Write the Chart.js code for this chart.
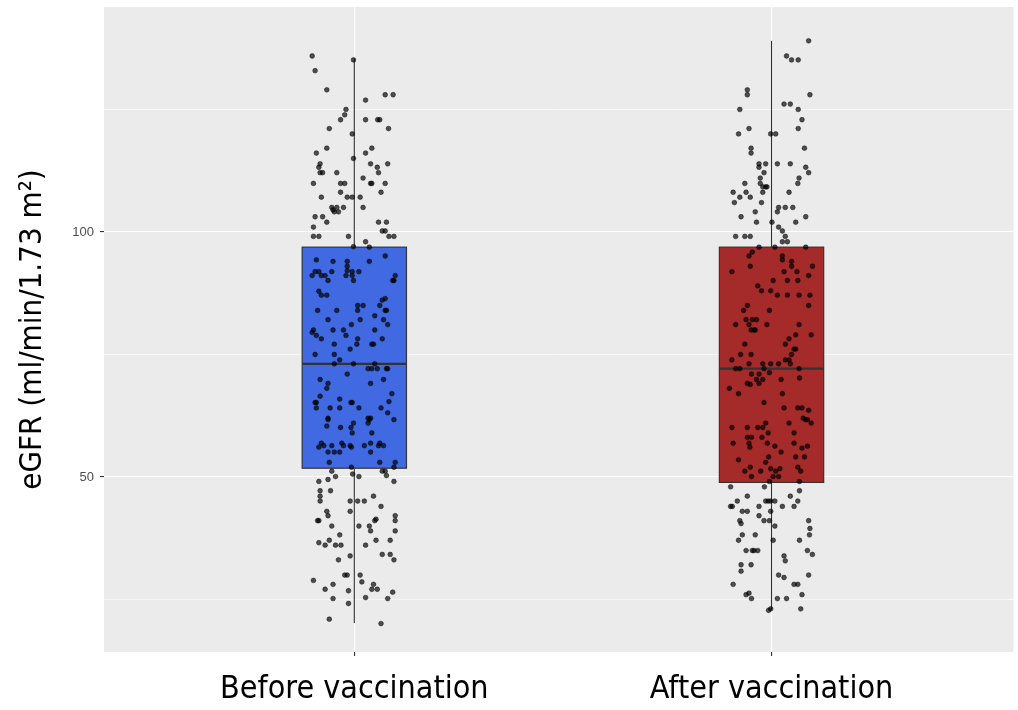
<!DOCTYPE html>
<html>
<head>
<meta charset="utf-8">
<script src="https://cdn.jsdelivr.net/npm/chart.js@4.4.1/dist/chart.umd.min.js"></script>
<style>
  html, body { margin: 0; padding: 0; background: #fff; }
  #wrap { width: 1018px; height: 710px; }
</style>
</head>
<body>
<div id="wrap"><canvas id="chart" width="1018" height="710"></canvas></div>
<script>
// groups and box statistics
const groups = ['Before vaccination', 'After vaccination'];
const groupColors = ['#4169E1', '#A52A2A'];
const whiskerLow = [20.2, 22.9];
const boxQ1 = [51.8, 48.9];
const boxMedian = [73.1, 72.1];
const boxQ3 = [96.9, 96.9];
const whiskerHigh = [135.4, 139.0];
const yTicks = [25, 50, 75, 100, 125];

// jittered observations: eGFR value and horizontal jitter (in category units)
const beforeValues = [
  135.9, 135.1, 132.9, 129.0, 128.0, 128.0, 126.9, 125.0, 123.9, 122.9,
  122.9, 122.9, 122.9, 121.1, 121.1, 120.0, 117.1, 117.1, 116.1, 116.1,
  115.0, 113.9, 113.9, 113.9, 113.2, 113.2, 112.1, 112.1, 112.1, 112.1,
  111.0, 109.9, 109.9, 109.9, 109.9, 109.9, 109.9, 108.1, 108.1, 107.1,
  107.1, 107.1, 107.1, 105.0, 105.0, 105.0, 105.0, 104.5, 104.1, 104.1,
  103.1, 103.1, 102.0, 102.0, 102.0, 101.0,
  99.1, 99.1, 99.1, 100.2, 100.2, 99.1, 99.1, 98.0, 96.9, 97.0,
  94.3, 94.0, 94.0, 94.0, 95.1, 93.0, 91.9, 91.9, 91.9, 92.1,
  91.9, 91.9, 91.1, 91.1, 91.1, 91.1, 91.1, 91.1, 90.1, 90.1,
  90.1, 90.1, 87.9, 87.1, 87.1, 86.4, 86.1, 85.0, 85.0, 85.0,
  84.0, 84.0, 84.0, 84.0, 84.0, 82.1, 82.1, 82.1, 82.9, 81.1,
  81.1, 80.0, 79.5, 80.0, 80.0, 80.0, 78.9, 78.9, 78.2, 78.2,
  78.2, 77.1, 77.1, 77.1, 77.1, 76.1, 75.0, 75.0, 73.9, 73.1,
  73.1, 73.1, 72.1, 72.1, 72.1, 72.1, 72.1, 71.0, 69.9, 69.9,
  69.1, 69.1, 68.1, 67.0, 66.5, 65.2, 65.2, 64.1, 65.2, 65.2,
  65.4, 64.1, 64.1, 65.9, 64.1, 64.1, 63.1, 62.0, 61.7, 62.0,
  62.0, 61.7, 61.7, 61.0, 61.0, 60.4, 60.1, 60.1,
  59.0, 59.0, 56.9, 56.4, 56.4, 56.9, 56.4, 56.4, 56.1, 56.4,
  56.9, 56.9, 56.4, 56.4, 56.1, 55.1, 55.1, 55.1, 55.1, 53.0,
  53.0, 53.0, 52.0, 52.0, 51.2, 50.6, 50.1, 51.2, 51.2, 50.3,
  50.1, 49.5, 49.1, 49.1, 47.2, 47.2, 46.1, 45.1, 46.1, 45.1,
  45.1, 45.1, 44.0, 43.0, 43.0, 42.1, 42.1, 41.1, 41.1, 41.1,
  41.4, 41.1, 40.0, 40.0, 40.0, 39.0, 39.0, 38.2, 37.1, 37.1,
  37.1, 36.6, 36.1, 36.1, 36.1, 36.1, 33.9, 34.2, 34.2, 33.1,
  33.1, 30.0, 30.0, 30.0, 28.9, 28.1, 28.6, 28.1, 27.1, 26.8,
  27.1, 27.1, 26.5, 25.2, 25.4, 25.2, 24.2, 21.0, 20.1
];
const beforeJitter = [
  -0.101, -0.002, -0.094, -0.066, 0.074, 0.093, 0.027, -0.020, -0.023, -0.033,
  0.027, 0.056, 0.061, -0.060, 0.082, -0.005, -0.066, 0.042, -0.091, 0.027,
  -0.002, -0.082, 0.039, 0.080, -0.085, 0.055, -0.082, -0.076, -0.042, 0.058,
  0.021, -0.098, -0.033, -0.023, 0.039, 0.042, 0.074, -0.033, 0.064, -0.079,
  -0.017, -0.005, 0.014, -0.054, -0.042, -0.026, 0.021, -0.051, -0.048, -0.038,
  -0.094, -0.076, -0.066, 0.058, 0.077, -0.098,
  -0.098, -0.085, -0.014, 0.067, 0.074, 0.083, 0.095, 0.027, 0.036, -0.002,
  -0.091, -0.051, -0.017, 0.036, 0.074, -0.017, -0.094, -0.085, -0.054, -0.017,
  -0.005, 0.011, -0.101, -0.079, -0.070, -0.020, -0.005, 0.098, -0.063, -0.002,
  0.092, 0.095, -0.085, -0.079, -0.066, 0.074, 0.067, 0.061, 0.008, 0.021,
  -0.088, -0.042, 0.008, 0.074, 0.077, -0.063, 0.014, 0.070, 0.049, -0.007,
  0.080, -0.098, -0.101, -0.051, -0.026, 0.049, -0.091, -0.020, -0.079, 0.008,
  0.067, -0.048, 0.006, 0.042, 0.046, -0.010, -0.094, -0.048, -0.035, -0.048,
  -0.002, 0.049, 0.033, 0.042, 0.055, 0.077, 0.080, -0.017, -0.082, 0.070,
  -0.063, 0.039, -0.066, 0.090, -0.082, -0.094, -0.091, -0.091, -0.008, -0.005,
  0.083, -0.058, -0.035, -0.035, 0.011, 0.064, 0.080, -0.063, -0.063, 0.033,
  0.039, 0.036, 0.095, -0.002, 0.033, -0.066, -0.033, -0.008,
  -0.005, 0.042, -0.079, -0.073, -0.054, -0.030, -0.026, -0.010, -0.007, 0.024,
  0.039, 0.061, 0.058, 0.070, -0.085, -0.063, -0.048, -0.035, 0.039, -0.060,
  0.061, 0.098, -0.007, 0.095, -0.054, -0.004, 0.011, 0.067, 0.074, 0.077,
  -0.045, -0.063, -0.085, 0.095, -0.082, -0.057, -0.082, -0.082, 0.046, -0.010,
  0.008, 0.024, 0.064, -0.066, -0.010, -0.063, 0.098, -0.088, -0.085, 0.049,
  0.052, 0.098, -0.054, 0.011, 0.036, 0.039, 0.098, -0.035, -0.060, 0.052,
  0.086, -0.085, -0.070, -0.045, -0.032, 0.027, -0.010, 0.067, 0.086, -0.038,
  0.095, -0.023, -0.017, 0.014, -0.098, -0.051, 0.018, 0.046, -0.070, -0.014,
  0.042, 0.055, 0.092, -0.051, 0.027, 0.080, -0.014, -0.060, 0.064
];

const afterValues = [
  139.0, 135.9, 135.1, 135.1, 129.0, 128.0, 128.0, 126.1, 126.1, 125.0,
  125.0, 122.9, 121.1, 121.1, 120.0, 120.0, 120.0, 117.1, 116.1, 117.1,
  113.9, 113.9, 113.9, 113.9, 113.2, 113.2, 112.1, 112.1, 111.0, 111.0,
  109.9, 109.9, 109.9, 109.2, 109.2, 109.2, 108.1, 108.1, 108.1, 108.1,
  107.1, 107.1, 106.0, 106.0, 105.0, 105.0, 105.0, 104.1, 104.1, 103.1,
  103.1, 102.0, 102.0, 102.0, 101.0,
  99.1, 99.1, 99.1, 100.2, 99.1, 98.0, 98.0, 96.9, 96.9, 96.9,
  95.9, 95.1, 95.1, 94.3, 94.0, 93.0, 93.0, 93.0, 91.9, 91.9,
  91.9, 91.1, 90.1, 90.1, 90.1, 89.0, 88.0, 88.0, 87.1, 87.1,
  87.1, 87.1, 85.0, 85.0, 84.0, 84.0, 82.1, 82.1, 82.1, 81.1,
  81.1, 81.1, 81.1, 80.0, 80.0, 80.0, 79.0, 79.0, 78.2, 77.1,
  77.1, 76.1, 76.1, 75.0, 75.0, 75.0, 73.9, 73.9, 73.9, 73.1,
  73.1, 73.1, 73.1, 73.1, 72.1, 72.1, 72.1, 72.1, 71.0, 71.0,
  71.3, 70.2, 69.9, 69.9, 69.9, 69.1, 68.9, 69.1, 68.1, 67.0,
  67.0, 65.2, 64.1, 64.1, 64.1, 63.6, 62.0, 61.7, 61.7, 61.0,
  61.0, 61.0, 60.1, 60.1, 60.1, 60.1,
  59.0, 59.0, 58.1, 58.1, 58.1, 56.9, 56.9, 56.1, 56.9, 56.9,
  55.9, 56.3, 56.3, 55.1, 53.5, 54.1, 54.1, 54.1, 53.0, 51.2,
  52.0, 51.2, 51.7, 51.7, 51.2, 52.0, 51.2, 50.1, 50.1, 50.1,
  49.1, 49.1, 48.0, 48.0, 47.2, 46.1, 46.1, 45.1, 45.1, 45.1,
  45.1, 45.1, 45.1, 44.0, 44.0, 44.0, 44.0, 44.0, 43.0, 43.0,
  43.0, 42.1, 41.1, 40.5, 41.1, 41.1, 41.1, 40.0, 39.5, 38.2,
  38.2, 38.2, 37.1, 37.1, 37.1, 35.0, 35.0, 35.0, 35.0, 35.0,
  34.2, 33.9, 32.9, 32.1, 32.1, 30.8, 30.0, 29.5, 30.0, 28.1,
  28.1, 28.1, 26.0, 26.3, 25.2, 25.2, 25.2, 26.0, 22.8, 23.1,
  23.1
];
const afterJitter = [
  0.089, 0.036, 0.048, 0.064, -0.058, -0.058, 0.092, 0.030, 0.045, -0.076,
  0.064, 0.073, -0.054, 0.064, -0.079, -0.002, 0.010, -0.049, -0.049, 0.079,
  -0.030, -0.014, 0.014, 0.045, -0.030, 0.082, -0.018, 0.089, -0.027, 0.066,
  -0.064, -0.027, 0.063, -0.021, -0.014, -0.011, -0.092, -0.061, -0.021, 0.042,
  -0.076, -0.051, -0.089, -0.024, 0.017, 0.033, 0.051, -0.039, 0.014, -0.073,
  0.082, -0.036, 0.001, 0.058, 0.017,
  -0.086, -0.064, -0.051, 0.026, 0.033, 0.026, 0.038, -0.030, 0.008, 0.082,
  -0.046, -0.054, 0.026, 0.026, 0.048, 0.048, 0.098, -0.051, -0.095, 0.030,
  0.061, 0.089, 0.004, 0.038, 0.063, -0.033, -0.024, -0.002, 0.014, 0.038,
  0.066, 0.092, -0.058, 0.089, -0.067, -0.005, -0.061, -0.046, -0.036, -0.086,
  -0.054, -0.011, 0.066, -0.049, -0.042, -0.039, 0.058, 0.095, 0.042, -0.064,
  0.033, 0.054, 0.058, -0.074, -0.049, 0.048, -0.095, 0.033, 0.042, 0.045,
  -0.054, -0.021, -0.002, 0.017, -0.086, -0.076, -0.018, 0.066, -0.048, -0.030,
  -0.005, 0.067, -0.036, -0.021, 0.023, -0.058, -0.051, -0.030, -0.101, -0.079,
  0.026, -0.018, 0.030, 0.063, 0.073, 0.089, 0.076, 0.082, 0.086, 0.095,
  0.042, -0.014, -0.095, -0.058, -0.033, -0.021,
  -0.008, 0.054, -0.058, -0.048, -0.023, -0.092, -0.054, -0.052, -0.010, 0.054,
  0.073, 0.086, 0.008, 0.023, -0.079, -0.007, 0.058, 0.079, -0.014, -0.064,
  -0.051, -0.026, -0.002, 0.020, 0.010, 0.063, 0.070, -0.048, 0.004, 0.017,
  -0.005, 0.067, -0.098, -0.017, 0.067, -0.058, 0.045, -0.082, -0.014, -0.008,
  -0.002, 0.008, 0.063, -0.098, -0.094, -0.030, 0.026, 0.054, -0.070, -0.058,
  -0.002, -0.030, -0.076, -0.073, -0.018, -0.005, 0.089, 0.008, 0.092, 0.091,
  -0.070, -0.039, -0.079, 0.004, 0.067, -0.061, -0.046, -0.042, -0.033, 0.086,
  0.098, 0.030, 0.033, -0.073, -0.049, -0.073, 0.017, 0.030, 0.089, -0.092,
  0.054, 0.063, -0.061, -0.054, -0.048, 0.014, 0.036, 0.073, -0.007, -0.002,
  0.070
];

const boxWidth = 0.25;
const textFont = "'DejaVu Sans Condensed', 'Liberation Sans Narrow', sans-serif";

function toPoints(values, jitter, pos) {
  return values.map((v, i) => ({ x: pos + jitter[i], y: v }));
}

const panelBackground = {
  id: 'panelBackground',
  beforeDraw(chart) {
    const { ctx, chartArea: a } = chart;
    ctx.save();
    ctx.fillStyle = '#EBEBEB';
    ctx.fillRect(a.left, a.top, a.right - a.left, a.bottom - a.top);
    ctx.restore();
  }
};

const boxPlot = {
  id: 'boxPlot',
  beforeDatasetsDraw(chart) {
    const { ctx } = chart;
    const xs = chart.scales.x;
    const ys = chart.scales.y;
    ctx.save();
    for (let i = 0; i < groups.length; i++) {
      const cx = xs.getPixelForValue(i + 1);
      const left = xs.getPixelForValue(i + 1 - boxWidth / 2);
      const right = xs.getPixelForValue(i + 1 + boxWidth / 2);
      const q1 = ys.getPixelForValue(boxQ1[i]);
      const q3 = ys.getPixelForValue(boxQ3[i]);
      const med = ys.getPixelForValue(boxMedian[i]);

      ctx.strokeStyle = '#333333';
      ctx.lineWidth = 1.1;
      ctx.beginPath();
      ctx.moveTo(cx, ys.getPixelForValue(whiskerHigh[i]));
      ctx.lineTo(cx, q3);
      ctx.moveTo(cx, q1);
      ctx.lineTo(cx, ys.getPixelForValue(whiskerLow[i]));
      ctx.stroke();

      ctx.fillStyle = groupColors[i];
      ctx.fillRect(left, q3, right - left, q1 - q3);
      ctx.lineWidth = 1.2;
      ctx.strokeRect(left, q3, right - left, q1 - q3);

      ctx.lineWidth = 2.2;
      ctx.beginPath();
      ctx.moveTo(left, med);
      ctx.lineTo(right, med);
      ctx.stroke();
    }
    ctx.restore();
  }
};

const pointStyle = {
  pointRadius: 2.4,
  pointBackgroundColor: 'rgba(0, 0, 0, 0.68)',
  pointBorderColor: 'rgba(0, 0, 0, 0.85)',
  pointBorderWidth: 0.5,
  showLine: false
};

new Chart(document.getElementById('chart'), {
  type: 'scatter',
  data: {
    datasets: [
      Object.assign({ label: groups[0], data: toPoints(beforeValues, beforeJitter, 1) }, pointStyle),
      Object.assign({ label: groups[1], data: toPoints(afterValues, afterJitter, 2) }, pointStyle)
    ]
  },
  options: {
    responsive: false,
    animation: false,
    devicePixelRatio: 1,
    layout: { padding: { top: 7, right: 0, left: 0, bottom: 0 } },
    plugins: {
      legend: { display: false },
      tooltip: { enabled: false }
    },
    scales: {
      x: {
        type: 'linear',
        min: 0.4,
        max: 2.58,
        afterBuildTicks: (scale) => {
          scale.ticks = groups.map((g, i) => ({ value: i + 1 }));
        },
        afterFit: (scale) => {
          scale.height = 58;
          scale.paddingLeft = 0;
          scale.paddingRight = 0;
        },
        ticks: {
          callback: (v) => groups[v - 1] || '',
          color: '#000000',
          font: { family: textFont, size: 32 },
          padding: 14,
          maxRotation: 0,
          autoSkip: false
        },
        grid: {
          color: '#FFFFFF',
          lineWidth: 1.1,
          tickColor: '#333333',
          tickLength: 4
        },
        border: { display: false }
      },
      y: {
        min: 14.3,
        max: 145.9,
        afterBuildTicks: (scale) => {
          scale.ticks = yTicks.map((v) => ({ value: v }));
        },
        afterFit: (scale) => {
          scale.width = 104;
          scale.paddingTop = 0;
          scale.paddingBottom = 0;
        },
        ticks: {
          callback: (v) => (v % 50 === 0 ? String(v) : ''),
          color: '#4D4D4D',
          font: { family: "'Liberation Sans', Arial, sans-serif", size: 13 },
          padding: 6
        },
        grid: {
          color: '#FFFFFF',
          lineWidth: (c) => (c.tick && c.tick.value % 50 === 0 ? 1.1 : 0.55),
          tickColor: (c) => (c.tick && c.tick.value % 50 === 0 ? '#333333' : 'rgba(0,0,0,0)'),
          tickLength: 4
        },
        border: { display: false },
        title: {
          display: true,
          text: 'eGFR (ml/min/1.73 m²)',
          color: '#000000',
          font: { family: textFont, size: 31 },
          padding: { top: 14, bottom: 0 }
        }
      }
    }
  },
  plugins: [panelBackground, boxPlot]
});
</script>
</body>
</html>
